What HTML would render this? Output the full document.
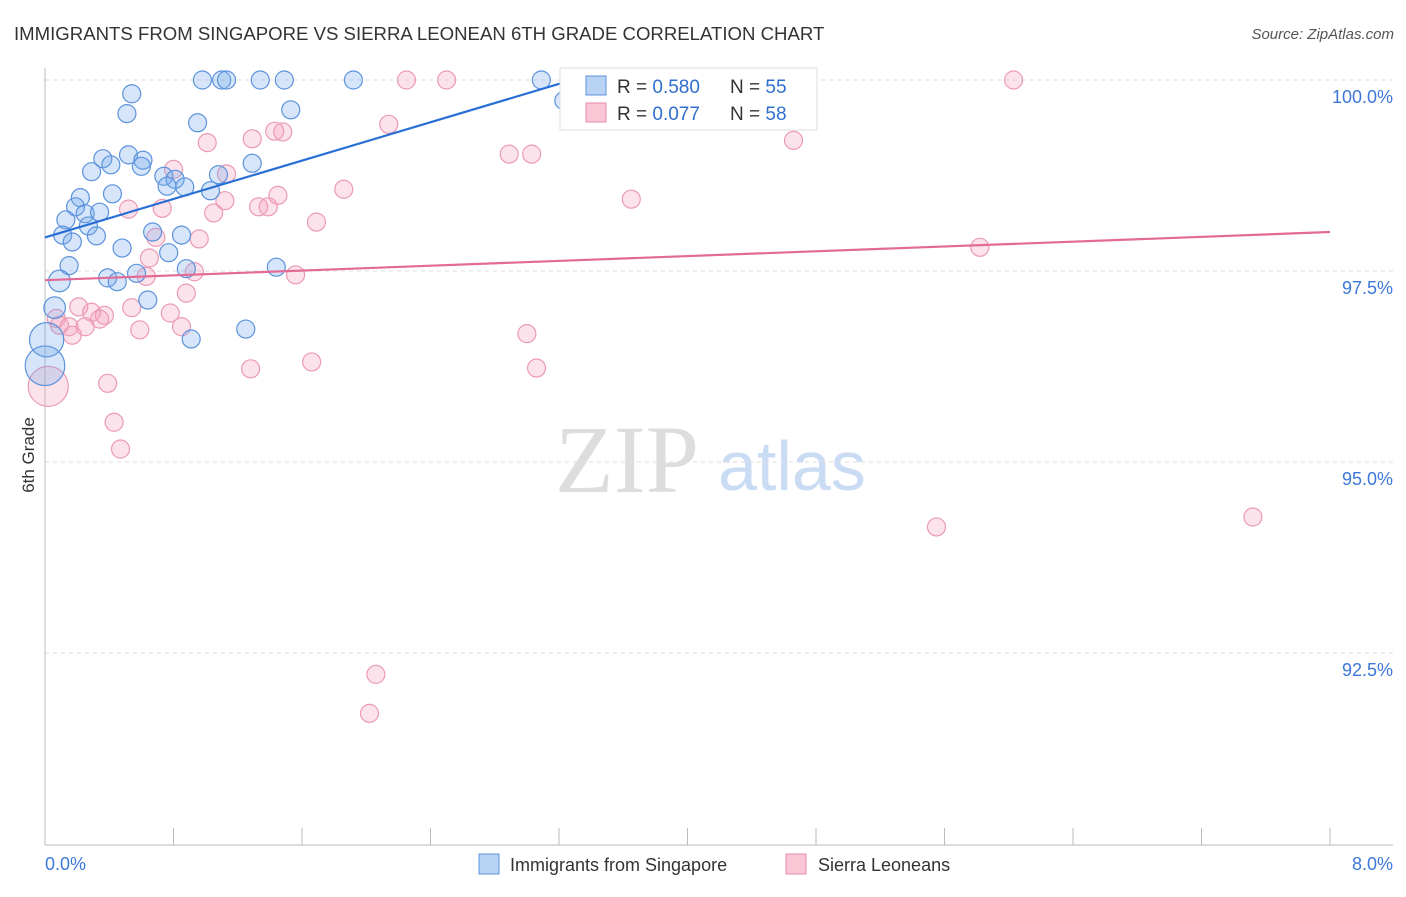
<!DOCTYPE html>
<html><head><meta charset="utf-8"><style>
body{margin:0;background:#fff;font-family:"Liberation Sans",sans-serif}
</style></head><body>
<svg id="c" width="1406" height="892" xmlns="http://www.w3.org/2000/svg">
<text x="14" y="40" font-size="18.6" fill="#333">IMMIGRANTS FROM SINGAPORE VS SIERRA LEONEAN 6TH GRADE CORRELATION CHART</text>
<text x="1394" y="39" font-size="15" fill="#555" font-style="italic" text-anchor="end">Source: ZipAtlas.com</text>
<text x="555" y="492" font-size="96" fill="#ddd" font-family="Liberation Serif,serif">ZIP</text>
<text x="718" y="490" font-size="70" fill="#c9dcf3">atlas</text>
<text transform="translate(34,455) rotate(-90)" font-size="17" fill="#333" text-anchor="middle">6th Grade</text>
<g id="grid"></g><g id="axes"></g><g id="pts"></g><g id="lines"></g>
<g>
<rect x="560" y="68" width="257" height="62" fill="#fff" stroke="#ddd"/>
<rect x="586" y="76" width="20" height="19" fill="#b9d3f5" stroke="#5b93dc"/>
<text x="617" y="93" font-size="19" fill="#333">R = <tspan fill="#2f6fd0">0.580</tspan></text>
<text x="730" y="93" font-size="19" fill="#333">N = <tspan fill="#2f6fd0">55</tspan></text>
<rect x="586" y="103" width="20" height="19" fill="#f8c6d5" stroke="#e88aa8"/>
<text x="617" y="120" font-size="19" fill="#333">R = <tspan fill="#2f6fd0">0.077</tspan></text>
<text x="730" y="120" font-size="19" fill="#333">N = <tspan fill="#2f6fd0">58</tspan></text>
</g>
<g>
<rect x="479" y="854" width="20" height="20" fill="#b9d3f5" stroke="#5b93dc"/>
<text x="510" y="871" font-size="18" fill="#333">Immigrants from Singapore</text>
<rect x="786" y="854" width="20" height="20" fill="#f8c6d5" stroke="#e88aa8"/>
<text x="818" y="871" font-size="18" fill="#333">Sierra Leoneans</text>
</g>
</svg>
<script>
const yTicks=[100,97.5,95,92.5];
const yTickLabels=["100.0%","97.5%","95.0%","92.5%"];
const xTickLabels=["0.0%","8.0%"];
const blueX=[0.98,1.10,1.13,1.34,1.49,1.92,3.09,3.67,3.86,4.31,4.62,0.54,0.51,1.53,3.23,0.95,0.36,0.52,0.61,0.41,0.60,0.29,1.29,0.74,0.81,0.76,0.87,1.03,1.08,0.42,0.22,0.19,0.25,0.34,0.13,0.27,0.11,0.32,0.17,0.67,0.85,0.48,0.77,0.15,0.39,0.57,0.88,1.44,0.45,0.09,0.64,0.06,1.25,0.91,0.01,0.0];
const blueY=[100,100,100,100,100,100,100,100,100,100,100,99.82,99.56,99.61,99.73,99.44,98.97,99.02,98.95,98.89,98.87,98.80,98.91,98.74,98.70,98.61,98.60,98.55,98.76,98.51,98.46,98.34,98.25,98.27,98.17,98.09,97.97,97.96,97.88,98.01,97.97,97.80,97.74,97.57,97.41,97.47,97.53,97.55,97.36,97.37,97.12,97.02,96.74,96.61,96.60,96.26];
const blueS=[1,1,1,1,1,1,1,1,1,1,1,1,1,1,1,1,1,1,1,1,1,1,1,1,1,1,1,1,1,1,1,1,1,1,1,1,1,1,1,1,1,1,1,1,1,1,1,1,1,1.2,1,1.2,1,1,1.9,2.2];
const pinkX=[2.25,2.50,4.31,6.03,3.89,1.29,1.43,1.48,1.01,2.14,2.89,3.03,4.66,0.80,1.13,1.86,3.65,1.45,1.12,1.33,1.39,0.52,0.73,1.05,1.69,0.69,0.96,5.82,0.65,0.63,0.93,1.56,0.88,0.21,0.54,0.29,0.37,0.07,0.09,0.15,0.34,0.25,0.17,0.78,0.59,0.85,3.00,3.06,1.28,1.66,0.39,0.43,0.47,5.55,7.52,2.06,2.02,0.02];
const pinkY=[100,100,100,100,99.57,99.23,99.33,99.32,99.18,99.42,99.03,99.03,99.21,98.83,98.77,98.57,98.44,98.49,98.42,98.34,98.34,98.31,98.32,98.26,98.14,97.94,97.92,97.81,97.67,97.43,97.49,97.45,97.21,97.03,97.02,96.96,96.92,96.88,96.79,96.77,96.87,96.77,96.66,96.95,96.73,96.77,96.68,96.23,96.22,96.31,96.03,95.52,95.17,94.15,94.28,92.22,91.71,95.99];
const blueLine=[[0,97.94],[3.36,100.05]];
const pinkLine=[[0,97.38],[8,98.01]];
const NS="http://www.w3.org/2000/svg";
const xs=v=>45+v/8*1285, ys=v=>80+(100-v)*76.4;
function mk(t,a,p){const e=document.createElementNS(NS,t);for(const k in a)e.setAttribute(k,a[k]);document.getElementById(p).appendChild(e);return e;}
yTicks.forEach((t,i)=>{
 const l=mk('line',{x1:45,x2:1393,y1:ys(t),y2:ys(t),stroke:'#ddd','stroke-dasharray':'4,4'},'grid');
 
 
 const tx=mk('text',{x:1393,y:ys(t)+23,'font-size':18,fill:'#3d78d8','text-anchor':'end'},'axes');
 tx.textContent=yTickLabels[i];
 
 
});
const ya=mk('line',{x1:45,x2:45,y1:68,y2:845,stroke:'#bbb'},'axes');


const xa=mk('line',{x1:45,x2:1393,y1:845,y2:845,stroke:'#bbb'},'axes');


for(let i=0;i<=10;i++){const t=mk('line',{x1:xs(i*0.8),x2:xs(i*0.8),y1:828,y2:845,stroke:'#bbb'},'axes');
 
 }
[[0,'start',45],[8,'end',1393]].forEach((d,i)=>{const t=mk('text',{x:d[2],y:870,'font-size':18,fill:'#3d78d8','text-anchor':d[1]},'axes');t.textContent=xTickLabels[i];
 
 });
pinkX.forEach((x,i)=>{const c=mk('circle',{cx:xs(x),cy:ys(pinkY[i]),r:i==pinkX.length-1?20:9,fill:'rgba(244,160,188,0.3)',stroke:'#eb9ab5','stroke-width':1.2},'pts');
 
 });
blueX.forEach((x,i)=>{const c=mk('circle',{cx:xs(x),cy:ys(blueY[i]),r:9*blueS[i],fill:'rgba(120,170,235,0.3)',stroke:'#5b93dc','stroke-width':1.2},'pts');
 
 });
const bl=mk('line',{x1:xs(blueLine[0][0]),y1:ys(blueLine[0][1]),x2:xs(blueLine[1][0]),y2:ys(blueLine[1][1]),stroke:'#2a6fd6','stroke-width':2.2},'lines');


const pl=mk('line',{x1:xs(pinkLine[0][0]),y1:ys(pinkLine[0][1]),x2:xs(pinkLine[1][0]),y2:ys(pinkLine[1][1]),stroke:'#e36a94','stroke-width':2.2},'lines');


</script>
</body></html>
